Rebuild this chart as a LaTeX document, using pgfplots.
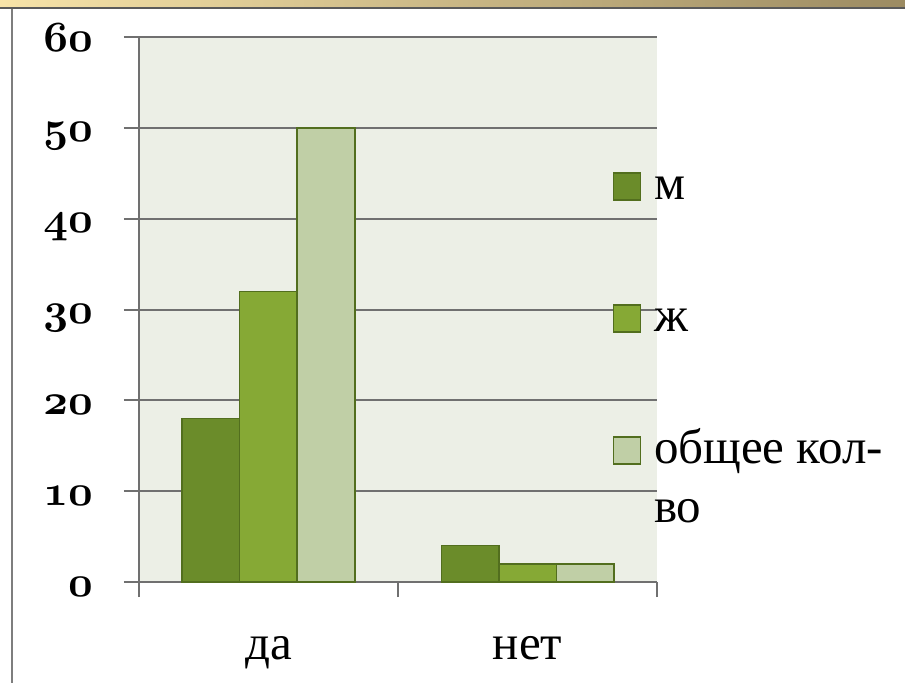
\RequirePackage{fix-cm}
\documentclass[border=0pt]{standalone}
\usepackage[no-math]{fontspec}
\setmainfont{Liberation Serif}
\usepackage{pgfplots}
\pgfplotsset{compat=1.18}
\definecolor{cm}{HTML}{6B8C2A}
\definecolor{cz}{HTML}{86A935}
\definecolor{ct}{HTML}{C0CFA6}
\definecolor{cb}{HTML}{526E1E}
\definecolor{bg}{HTML}{ECEFE6}
\definecolor{gr}{HTML}{707070}
\definecolor{goldL}{HTML}{F7E3A8}
\definecolor{goldR}{HTML}{9C8B62}
\pgfplotsset{sqlegend/.style={legend image code/.code={\draw[##1] (0pt,0pt) rectangle (27pt,27pt);}}}
\begin{document}
\begin{tikzpicture}[x=1pt,y=1pt]
\useasboundingbox (-139,-101) rectangle (766,582);
\fill[white] (-139,-101) rectangle (766,582);
\shade[left color=goldL, right color=goldR] (-139,575) rectangle (766,582);
\draw[gr!80!black, line width=2.5pt] (-139,574) -- (766,574);
\draw[gr!90, line width=2pt] (-127,573) -- (-127,-101);
\begin{axis}[
  at={(0,0)}, anchor=south west,
  width=518pt, height=545pt, scale only axis,
  xmin=-0.5, xmax=1.5, ymin=0, ymax=60,
  axis background/.style={fill=bg},
  axis lines=left, axis line style={-, draw=gr, line width=2pt},
  ybar=0pt, bar width=57.5pt,
  ytick={0,10,...,60},
  yticklabels={$\mathnormal{0}$,$\mathnormal{10}$,$\mathnormal{20}$,$\mathnormal{30}$,$\mathnormal{40}$,$\mathnormal{50}$,$\mathnormal{60}$},
  ymajorgrids, major grid style={draw=gr, line width=2pt},
  tick align=outside, major tick length=15pt, minor tick length=15pt,
  ytick style={draw=gr, line width=2pt},
  xtick={0,1}, xticklabels={да,нет}, xtick style={draw=none},
  minor xtick={-0.5,0.5,1.5}, minor x tick style={draw=gr, line width=2pt},
  yticklabel style={font=\fontsize{43}{50}\selectfont\boldmath, anchor=base east, inner sep=0pt, xshift=-31pt, yshift=-14pt},
  xticklabel style={font=\fontsize{49}{59}\selectfont, anchor=base, inner sep=0pt, yshift=-62pt},
  legend style={at={(0.9141,0.767)}, anchor=north west, draw=none, fill=none,
    inner sep=0pt, outer sep=0pt, row sep=86pt, column sep=13pt,
    cells={anchor=base west},
    nodes={inner sep=0pt, text height=36pt, text depth=10pt, font=\fontsize{49}{59}\selectfont}},
]
\addplot[fill=cm, draw=cb, line width=1.5pt, sqlegend]
  coordinates {(0,18) (1,4)};
\addplot[fill=cz, draw=cb, line width=1.5pt, sqlegend]
  coordinates {(0,32) (1,2)};
\addplot[fill=ct, draw=cb, line width=1.5pt, sqlegend]
  coordinates {(0,50) (1,2)};
\legend{м, ж, {\smash{\begin{tabular}[t]{@{}l@{}}общее кол-\\во\end{tabular}}}}
\end{axis}
\end{tikzpicture}
\end{document}
